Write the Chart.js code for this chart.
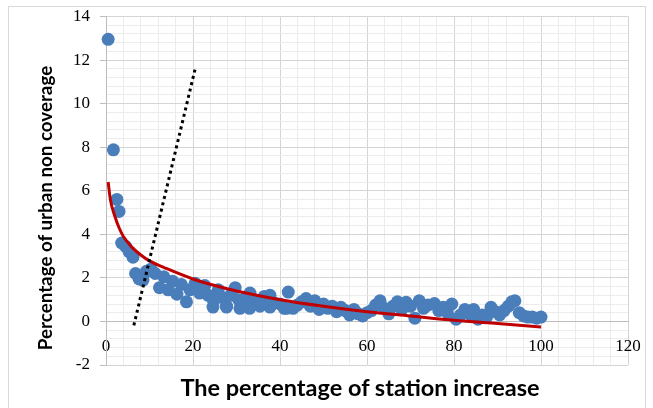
<!DOCTYPE html>
<html>
<head>
<meta charset="utf-8">
<script src="https://cdn.jsdelivr.net/npm/chart.js@4.4.1/dist/chart.umd.min.js"></script>
<style>
html,body{margin:0;padding:0;background:#fff;}
#wrap{position:relative;width:653px;height:408px;overflow:hidden;}
canvas{display:block;}
.ttl{position:absolute;font-family:Lato,sans-serif;font-weight:bold;color:#000;white-space:nowrap;line-height:1;transform-origin:center center;}
#xt{left:360px;top:388px;font-size:23.5px;transform:translate(-50%,-50%);}
#yt{left:45px;top:208px;font-size:18.8px;transform:translate(-50%,-50%) rotate(-90deg);}
#frame{position:absolute;left:8px;top:6px;width:636px;height:420px;border:1px solid #d9d9d9;pointer-events:none;}
</style>
</head>
<body>
<div id="wrap">
<canvas id="c" width="653" height="408"></canvas>
<div id="frame"></div>
<div class="ttl" id="xt"></div>
<div class="ttl" id="yt"></div>
</div>
<script>
const pointX = [0.5,1.7,2.5,3.0,3.6,4.5,5.3,6.2,6.8,7.6,8.5,9.3,10.3,11.3,12.3,13.3,14.3,15.3,16.3,17.3,18.5,19.3,20.5,21.5,22.7,23.5,24.7,25.8,26.6,27.7,28.6,29.7,30.5,31.2,32.2,33.1,34.2,35.4,36.4,37.7,38.7,40.0,41.0,41.9,43.0,44.0,45.0,46.0,47.0,48.0,49.0,50.0,51.0,52.0,53.0,54.0,55.0,56.0,57.0,58.0,59.0,60.0,61.0,62.0,63.0,64.0,65.0,66.0,67.0,68.0,69.0,70.0,71.0,72.0,73.0,74.0,75.5,76.5,77.5,78.5,79.5,80.5,81.5,82.5,83.5,84.5,85.5,86.5,87.5,88.5,89.5,90.5,91.5,92.5,93.3,94.0,95.0,96.0,97.0,98.0,99.0,100.0,
  24.6,30.8,33.0,37.7,41.5,27.7];
const pointY = [12.95,7.88,5.6,5.05,3.6,3.45,3.2,2.95,2.2,1.95,1.9,2.3,2.4,2.2,1.55,2.05,1.45,1.85,1.25,1.7,0.9,1.45,1.75,1.3,1.65,1.2,0.95,1.45,1.1,0.7,1.2,1.55,1.0,0.8,1.1,1.3,0.9,0.7,1.15,1.2,0.85,0.8,0.6,1.35,0.6,0.75,0.9,1.05,0.7,0.95,0.55,0.8,0.6,0.7,0.45,0.65,0.5,0.3,0.55,0.35,0.25,0.4,0.5,0.75,0.95,0.6,0.35,0.7,0.9,0.55,0.88,0.7,0.15,0.95,0.6,0.75,0.82,0.5,0.65,0.4,0.8,0.1,0.3,0.55,0.35,0.55,0.1,0.3,0.2,0.65,0.45,0.3,0.5,0.7,0.9,0.95,0.4,0.25,0.2,0.2,0.15,0.2,
  0.66,0.6,0.6,0.66,0.6,0.66];

// Fitted (logarithmic) trend line
const trendX = [0.5,1,2,3,4,6,8,10,14,20,25,30,40,50,60,70,80,90,100];
const trendY = [6.4,5.6,4.85,4.3,3.9,3.4,3.05,2.78,2.42,1.95,1.65,1.4,1.0,0.7,0.45,0.25,0.05,-0.1,-0.25];

// Dotted reference line
const dotX = [6.4,20.5];
const dotY = [-0.18,11.6];

// Axes
const xMin = 0, xMax = 120, xMajor = 20, xMinor = 4;
const yMin = -2, yMax = 14, yMajor = 2, yMinor = 0.4;
const xTitle = 'The percentage of station increase';
const yTitle = 'Percentage of urban non coverage';

document.getElementById('xt').textContent = xTitle;
document.getElementById('yt').textContent = yTitle;

const SERIF = "'Liberation Serif', serif";
Chart.defaults.font.family = SERIF;
Chart.defaults.font.size = 17;
Chart.defaults.color = '#000';

const toXY = (xs, ys) => xs.map((x, i) => ({x: x, y: ys[i]}));
const isMajor = (v, step) => Math.abs(v / step - Math.round(v / step)) < 1e-6;

new Chart(document.getElementById('c'), {
  type: 'scatter',
  data: {
    datasets: [
      {
        type: 'line',
        data: toXY(dotX, dotY),
        borderColor: '#000',
        borderWidth: 3,
        borderDash: [3, 3.5],
        borderCapStyle: 'butt',
        pointRadius: 0,
        showLine: true,
        fill: false
      },
      {
        type: 'line',
        data: toXY(trendX, trendY),
        borderColor: '#c00000',
        borderWidth: 3,
        pointRadius: 0,
        showLine: true,
        cubicInterpolationMode: 'monotone',
        fill: false
      },
      {
        type: 'scatter',
        data: toXY(pointX, pointY),
        backgroundColor: '#4a7ebb',
        borderColor: '#4a7ebb',
        borderWidth: 0,
        pointRadius: 6.5,
        pointHoverRadius: 6.5,
        clip: false
      }
    ]
  },
  options: {
    responsive: false,
    animation: false,
    events: [],
    layout: {padding: {left: 0, right: 25, top: 16.5, bottom: 43}},
    plugins: {legend: {display: false}, tooltip: {enabled: false}},
    scales: {
      x: {
        type: 'linear',
        position: {y: 0},
        min: xMin, max: xMax,
        ticks: {
          stepSize: xMinor,
          autoSkip: false,
          maxRotation: 0,
          padding: 9,
          color: '#000',
          font: {family: SERIF, size: 17},
          callback: v => isMajor(v, xMajor) ? String(v) : ''
        },
        grid: {
          color: c => isMajor(c.tick.value, xMajor) ? '#d4d4d4' : '#ececec',
          tickColor: c => isMajor(c.tick.value, xMajor) ? '#d4d4d4' : '#ececec',
          tickLength: 6,
          lineWidth: 1
        },
        border: {color: '#bdbdbd', width: 1}
      },
      y: {
        type: 'linear',
        min: yMin, max: yMax,
        afterFit: s => { s.width = 106; s.paddingTop = 0; s.paddingBottom = 0; },
        ticks: {
          stepSize: yMinor,
          autoSkip: false,
          padding: 10,
          color: '#000',
          font: {family: SERIF, size: 17},
          callback: v => isMajor(v, yMajor) ? String(Math.round(v)) : ''
        },
        grid: {
          color: c => isMajor(c.tick.value, yMajor) ? '#d4d4d4' : '#ececec',
          tickColor: c => isMajor(c.tick.value, yMajor) ? '#bdbdbd' : 'rgba(0,0,0,0)',
          tickLength: 6,
          lineWidth: 1
        },
        border: {color: '#bdbdbd', width: 1}
      }
    }
  }
});
</script>
</body>
</html>
